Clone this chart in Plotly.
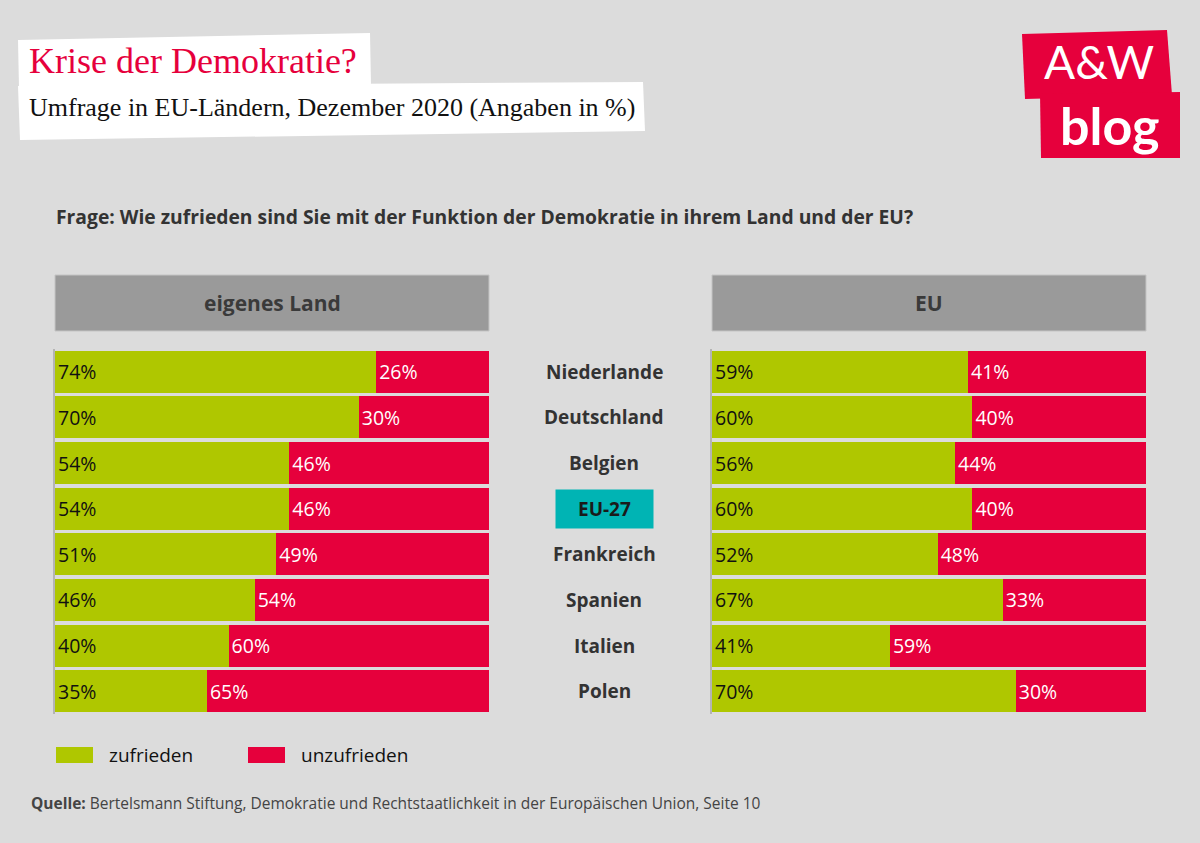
import plotly.graph_objects as go

countries = ["Niederlande", "Deutschland", "Belgien", "EU-27", "Frankreich", "Spanien", "Italien", "Polen"]
land_zufrieden = [74, 70, 54, 54, 51, 46, 40, 35]
land_unzufrieden = [26, 30, 46, 46, 49, 54, 60, 65]
eu_zufrieden = [59, 60, 56, 60, 52, 67, 41, 70]
eu_unzufrieden = [41, 40, 44, 40, 48, 33, 59, 30]

GREEN = "#afc700"
RED = "#e6003c"
BG = "#dcdcdc"
FONT = "Open Sans"

W, H = 1200, 843
def px(x):
    return x / W
def py(y):
    return 1 - y / H

fig = go.Figure()

panels = [
    ("x", "y", land_zufrieden, land_unzufrieden),
    ("x2", "y2", eu_zufrieden, eu_unzufrieden),
]
for i, (xa, ya, zuf, unz) in enumerate(panels):
    fig.add_trace(go.Bar(
        y=countries, x=zuf, orientation="h", xaxis=xa, yaxis=ya,
        marker=dict(color=GREEN, line=dict(width=0)),
        text=[f"{v}%" for v in zuf], textposition="inside", insidetextanchor="start",
        textfont=dict(family=FONT, size=19.5, color="#111111"),
        constraintext="none", name="zufrieden", showlegend=False, hoverinfo="skip",
    ))
    fig.add_trace(go.Bar(
        y=countries, x=unz, orientation="h", xaxis=xa, yaxis=ya,
        marker=dict(color=RED, line=dict(width=0)),
        text=[f"{v}%" for v in unz], textposition="inside", insidetextanchor="start",
        textfont=dict(family=FONT, size=19.5, color="#ffffff"),
        constraintext="none", name="unzufrieden", showlegend=False, hoverinfo="skip",
    ))

y_dom = [py(714), py(349)]
axis_common = dict(range=[0, 100], showgrid=False, zeroline=False, showticklabels=False, fixedrange=True)
yaxis_common = dict(autorange=False, range=[7.5, -0.5], showgrid=False, zeroline=False,
                    showticklabels=False, showline=True, linecolor="#b4b4b4", linewidth=2, ticks="")

fig.update_layout(
    width=W, height=H,
    margin=dict(l=0, r=0, t=0, b=0),
    paper_bgcolor=BG, plot_bgcolor=BG,
    barmode="stack", bargap=0.08,
    showlegend=False,
    uniformtext=dict(minsize=19, mode="show"),
    xaxis=dict(domain=[px(55), px(489)], anchor="y", **axis_common),
    yaxis=dict(domain=y_dom, anchor="x", **yaxis_common),
    xaxis2=dict(domain=[px(712), px(1146)], anchor="y2", **axis_common),
    yaxis2=dict(domain=y_dom, anchor="x2", **yaxis_common),
    font=dict(family=FONT),
)

shapes = []
annotations = []

# Title boxes (white, slightly tilted)
shapes.append(dict(type="path", xref="paper", yref="paper",
                   path=f"M {px(18)} {py(40)} L {px(370)} {py(33)} L {px(371)} {py(86)} L {px(19)} {py(88)} Z",
                   fillcolor="white", line=dict(width=0), layer="below"))
shapes.append(dict(type="path", xref="paper", yref="paper",
                   path=f"M {px(18)} {py(86)} L {px(643)} {py(82)} L {px(645)} {py(131)} L {px(20)} {py(140)} Z",
                   fillcolor="white", line=dict(width=0), layer="below"))
annotations.append(dict(text="Krise der Demokratie?", xref="paper", yref="paper",
                        x=px(27), y=py(61), xanchor="left", yanchor="middle", showarrow=False,
                        font=dict(family="Liberation Serif", size=36, color=RED)))
annotations.append(dict(text="Umfrage in EU-Ländern, Dezember 2020 (Angaben in %)", xref="paper", yref="paper",
                        x=px(27), y=py(107), xanchor="left", yanchor="middle", showarrow=False,
                        font=dict(family="Liberation Serif", size=26, color="#111111")))

# Logo
shapes.append(dict(type="path", xref="paper", yref="paper",
                   path=f"M {px(1022)} {py(34)} L {px(1167)} {py(30)} L {px(1172)} {py(95)} L {px(1025)} {py(99)} Z",
                   fillcolor=RED, line=dict(width=0)))
shapes.append(dict(type="path", xref="paper", yref="paper",
                   path=f"M {px(1040)} {py(94)} L {px(1180)} {py(92)} L {px(1180)} {py(158)} L {px(1041)} {py(158)} Z",
                   fillcolor=RED, line=dict(width=0)))
annotations.append(dict(text="A&amp;W", xref="paper", yref="paper",
                        x=px(1099), y=py(62), xanchor="center", yanchor="middle", showarrow=False,
                        font=dict(family="Lato", size=46, color="white")))
annotations.append(dict(text="<b>blog</b>", xref="paper", yref="paper",
                        x=px(1110), y=py(125), xanchor="center", yanchor="middle", showarrow=False,
                        font=dict(family="Lato", size=52, color="white")))

# Question
annotations.append(dict(text="<b>Frage: Wie zufrieden sind Sie mit der Funktion der Demokratie in ihrem Land und der EU?</b>",
                        xref="paper", yref="paper", x=px(54), y=py(217), xanchor="left", yanchor="middle",
                        showarrow=False, font=dict(family=FONT, size=19.3, color="#333333")))

# Panel headers
for x0, x1, label in [(55, 489, "eigenes Land"), (712, 1146, "EU")]:
    shapes.append(dict(type="rect", xref="paper", yref="paper", x0=px(x0), x1=px(x1), y0=py(331), y1=py(275),
                       fillcolor="#9a9a9a", line=dict(color="#c4c4c4", width=1)))
    annotations.append(dict(text=f"<b>{label}</b>", xref="paper", yref="paper",
                            x=px((x0 + x1) / 2), y=py(303), xanchor="center", yanchor="middle", showarrow=False,
                            font=dict(family=FONT, size=21, color="#3a3a3a")))

# Country labels
for c in countries:
    if c == "EU-27":
        annotations.append(dict(text=f"<b>{c}</b>", xref="paper", yref="y", x=px(604), y=c,
                                xanchor="center", yanchor="middle", showarrow=False,
                                bgcolor="#00b4b4", width=95, height=36,
                                font=dict(family=FONT, size=19, color="#1a1a1a")))
    else:
        annotations.append(dict(text=f"<b>{c}</b>", xref="paper", yref="y", x=px(604), y=c,
                                xanchor="center", yanchor="middle", showarrow=False,
                                font=dict(family=FONT, size=19, color="#333333")))

# Legend
for x0, color, label in [(56, GREEN, "zufrieden"), (248, RED, "unzufrieden")]:
    shapes.append(dict(type="rect", xref="paper", yref="paper", x0=px(x0), x1=px(x0 + 37),
                       y0=py(763), y1=py(747), fillcolor=color, line=dict(width=0)))
    annotations.append(dict(text=label, xref="paper", yref="paper", x=px(x0 + 51), y=py(755),
                            xanchor="left", yanchor="middle", showarrow=False,
                            font=dict(family=FONT, size=19, color="#111111")))

# Source
annotations.append(dict(text="<b>Quelle:</b> Bertelsmann Stiftung, Demokratie und Rechtstaatlichkeit in der Europäischen Union, Seite 10",
                        xref="paper", yref="paper", x=px(29), y=py(803), xanchor="left", yanchor="middle",
                        showarrow=False, font=dict(family=FONT, size=15.5, color="#444444")))

fig.update_layout(shapes=shapes, annotations=annotations)
fig.write_html("out.html")
